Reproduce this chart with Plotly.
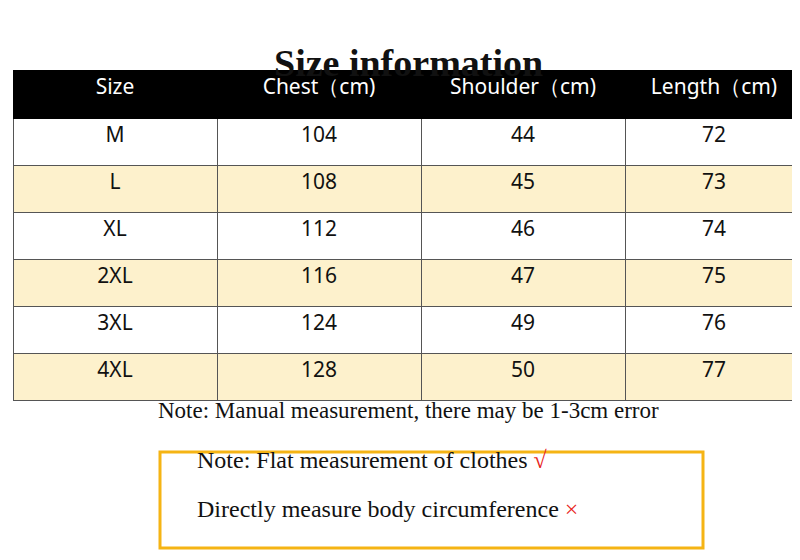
import plotly.graph_objects as go

headers = ["Size", "Chest（cm)", "Shoulder（cm)", "Length（cm)"]
sizes = ["M", "L", "XL", "2XL", "3XL", "4XL"]
chest = [104, 108, 112, 116, 124, 128]
shoulder = [44, 45, 46, 47, 49, 50]
length = [72, 73, 74, 75, 76, 77]

W, H = 800, 560
fills = ["#ffffff" if i % 2 == 0 else "#fdf1cc" for i in range(len(sizes))]

fig = go.Figure(go.Table(
    domain=dict(x=[5 / W, 795 / W], y=[0, 1 - 62 / H]),
    columnwidth=[204, 204, 204, 178],
    header=dict(values=headers, fill_color="#000000", height=48, align="center",
                line=dict(color="#000000", width=1),
                font=dict(family="Noto Sans", size=21, color="white")),
    cells=dict(values=[sizes, chest, shoulder, length], height=47, align="center",
               fill_color=[fills] * 4, line=dict(color="#555555", width=1),
               font=dict(family="Noto Sans", size=21, color="#111111")),
))
# adjust first header font size for Chest column not possible individually; keep uniform

fig.add_annotation(x=0.5, y=1 - 32 / H, xref="paper", yref="paper", showarrow=False,
                   text="<b>Size information</b>",
                   font=dict(family="Liberation Serif", size=38, color="#111111"))
fig.add_annotation(x=0.5, y=1 - 417 / H, xref="paper", yref="paper", showarrow=False,
                   text="Note: Manual measurement, there may be 1-3cm error",
                   font=dict(family="Liberation Serif", size=23, color="#111111"))
fig.add_annotation(x=187 / W, y=1 - 467 / H, xref="paper", yref="paper", showarrow=False,
                   xanchor="left",
                   text="Note: Flat measurement of clothes <span style='color:#e8231a'>√</span>",
                   font=dict(family="Liberation Serif", size=24, color="#111111"))
fig.add_annotation(x=187 / W, y=1 - 516 / H, xref="paper", yref="paper", showarrow=False,
                   xanchor="left",
                   text="Directly measure body circumference <span style='color:#e8231a'>×</span>",
                   font=dict(family="Liberation Serif", size=24, color="#111111"))
fig.add_shape(type="rect", xref="paper", yref="paper",
              x0=152 / W, x1=695 / W, y0=1 - 540 / H, y1=1 - 444 / H,
              line=dict(color="#f5b414", width=3))

fig.update_layout(width=W, height=H, margin=dict(l=0, r=0, t=0, b=0),
                  paper_bgcolor="white", plot_bgcolor="white")
fig.write_html("out.html")
